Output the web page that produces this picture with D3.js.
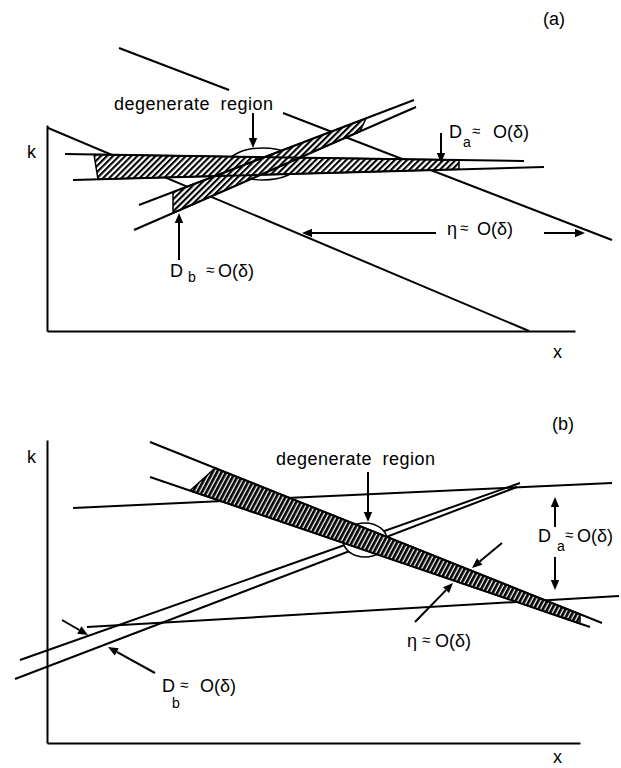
<!DOCTYPE html>
<html>
<head>
<meta charset="utf-8">
<script src="https://cdn.jsdelivr.net/npm/d3@7"></script>
<style>
  html, body { margin: 0; padding: 0; background: #fff; }
  svg text { font-family: "Liberation Sans", Arial, Helvetica, sans-serif; fill: #000; }
</style>
</head>
<body>
<div id="fig"></div>
<script>
// all positions below are in chart units: x to the right of the k axis, k up from the x axis

// ---- panel (a)
const aLines = [
    [[0, 203.5], [482, 0]],      // lower characteristic
    [[72, 283], [182, 241]],     // upper characteristic (left of label)
    [[236, 218], [565, 91]],     // upper characteristic (right of label)
    [[18, 177], [477, 170]],     // D_a pair
    [[26, 151], [497, 164]],
    [[92, 126], [367, 231]],     // D_b pair
    [[87, 101], [369, 224]]
];
const aHatch = [
    { top: 3, bot: 4, from: [47, 51], to: [412, 412] },
    { top: 5, bot: 6, from: [126, 126], to: [319, 313] }
];
const aEllipse = [216, 167, 35, 16];
const aArrows = [
    [[206, 218], [206, 183]],
    [[394, 198], [394, 168]],
    [[389, 98], [255, 98]],
    [[497, 98], [538, 98]],
    [[132, 71], [132, 118]]
];
const aTexts = [
    ["degenerate region", 67, 221, 18],
    ["D", 402, 193, 18], ["a", 416, 184, 14], ["≈", 425, 195, 15], ["O(δ)", 446, 193, 18],
    ["η", 400, 96, 18], ["≈", 413, 98, 15], ["O(δ)", 430, 96, 18],
    ["D", 123, 54, 18], ["b", 141, 49, 14], ["≈", 159, 56, 15], ["O(δ)", 171, 54, 18],
    ["(a)", 496, 306, 18],
    ["k", -20, 173, 18],
    ["x", 506, -27, 18]
];

// ---- panel (b)
const bLines = [
    [[103, 301], [555, 120]],    // eta pair (hatched)
    [[103, 266], [543, 116]],
    [[-27, 83], [473, 260]],     // D_b pair
    [[-32, 64], [470, 256]],
    [[26, 235], [565, 260]],     // D_a pair
    [[40, 116], [572, 147]]
];
const bHatch = [
    { top: 0, bot: 1, from: [168, 143], to: [533, 533] }
];
const bEllipse = [318, 203, 22, 17];
const bArrows = [
    [[321, 271], [321, 221]],
    [[508, 216], [508, 246]],
    [[508, 186], [508, 153]],
    [[455, 200], [425, 175]],
    [[368, 121], [406, 160]],
    [[15, 123], [41, 108]],
    [[108, 70], [61, 96]]
];
const bTexts = [
    ["degenerate region", 229, 278, 18],
    ["D", 491, 201, 18], ["a", 510, 192, 14], ["≈", 518, 203, 15], ["O(δ)", 530, 201, 18],
    ["η", 360, 96, 18], ["≈", 375, 98, 15], ["O(δ)", 388, 96, 18],
    ["D", 115, 51, 18], ["b", 125, 35, 14], ["≈", 133, 53, 15], ["O(δ)", 153, 51, 18],
    ["(b)", 505, 313, 18],
    ["k", -20, 280, 18],
    ["x", 506, -20, 18]
];

const W = 621, H = 768;
const svg = d3.select("#fig").append("svg").attr("width", W).attr("height", H);
const defs = svg.append("defs");

function hatchPattern(id, angle, period, ink) {
    const p = defs.append("pattern")
        .attr("id", id)
        .attr("patternUnits", "userSpaceOnUse")
        .attr("width", period)
        .attr("height", period)
        .attr("patternTransform", `rotate(${angle})`);
    p.append("rect").attr("width", period).attr("height", period).attr("fill", "#fff");
    p.append("rect").attr("width", ink).attr("height", period).attr("fill", "#000");
}
hatchPattern("hatchA", 45, 4.3, 2.1);
hatchPattern("hatchB", 28, 4.0, 2.7);

function drawPanel(cfg) {
    const x = d3.scaleLinear().domain(cfg.xDomain).range(cfg.xRange);
    const k = d3.scaleLinear().domain(cfg.kDomain).range(cfg.kRange);
    const g = svg.append("g");

    g.append("g")
        .attr("transform", `translate(0,${k(0)})`)
        .call(d3.axisBottom(x).tickValues([]).tickSizeOuter(0))
        .call(a => a.select(".domain").attr("stroke", "#000").attr("stroke-width", 2));
    g.append("g")
        .attr("transform", `translate(${x(0)},0)`)
        .call(d3.axisLeft(k).tickValues([]).tickSizeOuter(0))
        .call(a => a.select(".domain").attr("stroke", "#000").attr("stroke-width", 2));

    const line = d3.line().x(d => x(d[0])).y(d => k(d[1]));
    const edgeIds = new Set(cfg.hatch.flatMap(h => [h.top, h.bot]));
    const at = (seg, xv) => {
        const [[x0, k0], [x1, k1]] = seg;
        return [xv, k0 + (xv - x0) * (k1 - k0) / (x1 - x0)];
    };

    g.selectAll(".plain").data(cfg.lines.filter((_, i) => !edgeIds.has(i)))
        .join("path")
        .attr("d", line)
        .attr("fill", "none").attr("stroke", "#000").attr("stroke-width", 2);

    const [ecx, eck, erx, erk] = cfg.ellipse;
    g.append("ellipse")
        .attr("cx", x(ecx)).attr("cy", k(eck))
        .attr("rx", x(ecx + erx) - x(ecx)).attr("ry", k(eck) - k(eck + erk))
        .attr("fill", "#fff").attr("stroke", "#000").attr("stroke-width", 1.6);

    g.selectAll(".hatch").data(cfg.hatch)
        .join("path")
        .attr("d", h => line([
            at(cfg.lines[h.top], h.from[0]),
            at(cfg.lines[h.top], h.to[0]),
            at(cfg.lines[h.bot], h.to[1]),
            at(cfg.lines[h.bot], h.from[1])
        ]) + "Z")
        .attr("fill", `url(#${cfg.pattern})`)
        .attr("stroke", "#000").attr("stroke-width", 1.5);

    g.selectAll(".edge").data(cfg.lines.filter((_, i) => edgeIds.has(i)))
        .join("path")
        .attr("d", line)
        .attr("fill", "none").attr("stroke", "#000").attr("stroke-width", 2);

    cfg.arrows.forEach(([s, t]) => {
        const x1 = x(s[0]), y1 = k(s[1]), x2 = x(t[0]), y2 = k(t[1]);
        const len = Math.hypot(x2 - x1, y2 - y1);
        const ux = (x2 - x1) / len, uy = (y2 - y1) / len;
        const hl = 10, hw = 4.2;
        const bx = x2 - ux * hl, by = y2 - uy * hl;
        g.append("line")
            .attr("x1", x1).attr("y1", y1).attr("x2", bx).attr("y2", by)
            .attr("stroke", "#000").attr("stroke-width", 2);
        g.append("path")
            .attr("d", `M${x2},${y2}L${bx - uy * hw},${by + ux * hw}L${bx + uy * hw},${by - ux * hw}Z`)
            .attr("fill", "#000");
    });

    g.selectAll(".lbl").data(cfg.texts)
        .join("text")
        .attr("x", d => x(d[1]))
        .attr("y", d => k(d[2]))
        .attr("font-size", d => d[3])
        .attr("word-spacing", d => d[0].includes(" ") ? 5 : null)
        .attr("letter-spacing", d => d[0].length > 4 ? 0.5 : null)
        .text(d => d[0]);
}

drawPanel({
    xDomain: [0, 528], xRange: [47, 575],
    kDomain: [0, 206], kRange: [331, 125],
    lines: aLines, hatch: aHatch, ellipse: aEllipse, arrows: aArrows, texts: aTexts,
    pattern: "hatchA"
});
drawPanel({
    xDomain: [0, 533], xRange: [47, 580],
    kDomain: [0, 303], kRange: [743, 440],
    lines: bLines, hatch: bHatch, ellipse: bEllipse, arrows: bArrows, texts: bTexts,
    pattern: "hatchB"
});
</script>
</body>
</html>
